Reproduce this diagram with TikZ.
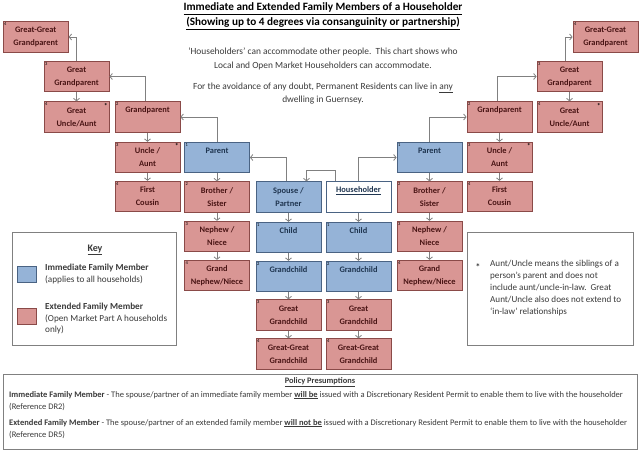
\documentclass[tikz,border=0pt]{standalone}
\usepackage{fontspec}
\setmainfont{Carlito}
\definecolor{ImmBlue}{HTML}{95B3D7}
\definecolor{ImmEdge}{HTML}{4A6383}
\definecolor{ExtRed}{HTML}{D99694}
\definecolor{ExtEdge}{HTML}{8A4A48}
\definecolor{ImmText}{HTML}{1F3550}
\definecolor{ExtText}{HTML}{4A1515}
\definecolor{LinkGrey}{HTML}{808080}
\definecolor{BodyText}{HTML}{3A3A3A}
\usetikzlibrary{arrows.meta,positioning}

\begin{document}
\begin{tikzpicture}[x=1pt,y=-1pt,>={Straight Barb[length=2.5pt,width=6pt]}]
\tikzstyle{fam}=[draw,line width=0.8pt,align=center,minimum width=65pt,minimum height=30.5pt,inner sep=1pt,font=\fontsize{8.4}{13}\selectfont\bfseries]
\tikzstyle{imm}=[fam,fill=ImmBlue,draw=ImmEdge,text=ImmText]
\tikzstyle{ext}=[fam,fill=ExtRed,draw=ExtEdge,text=ExtText]
\tikzstyle{hhbox}=[fam,fill=white,draw=ImmEdge,text=ImmText]
\tikzstyle{oneline}=[text depth=14pt]
\tikzstyle{deg}=[anchor=north west,inner sep=1.2pt,font=\fontsize{4.5}{5}\selectfont,text=black]
\tikzstyle{star}=[anchor=north east,inner sep=1.5pt,font=\fontsize{7}{7}\selectfont\bfseries,text=black]
\tikzstyle{link}=[draw=LinkGrey,line width=0.8pt,->]
\tikzstyle{panel}=[draw=LinkGrey,line width=0.6pt,fill=white]
\tikzstyle{swatch}=[draw,line width=0.6pt,minimum width=19pt,minimum height=16pt]
\tikzstyle{body}=[font=\fontsize{9.4}{14}\selectfont,text=BodyText,align=center]
\tikzstyle{keytext}=[font=\fontsize{9.2}{11.5}\selectfont,text=BodyText,align=left,inner sep=0pt]
\tikzstyle{policy}=[font=\fontsize{8.5}{12}\selectfont,text=BodyText,align=left,inner sep=0pt]
\useasboundingbox (0,0) rectangle (640,452);
% heading and notes
\node[font=\fontsize{11.2}{15}\selectfont\bfseries,align=center] (title) at (323,16.5) {\underline{Immediate and Extended Family Members of a Householder}\\\underline{(Showing up to 4 degrees via consanguinity or partnership)}};
\node[body] (intro) at (323,59) {`Householders' can accommodate other people.\ \ This chart shows who\\Local and Open Market Householders can accommodate.};
\node[body,font=\fontsize{9.4}{13}\selectfont] (doubt) at (323,93.5) {For the avoidance of any doubt, Permanent Residents can live in \underline{any}\\dwelling in Guernsey.};
% left ancestors
\node[ext,label={[deg]north west:4}] (lgggp) at (35.7,37) {Great-Great\\Grandparent};
\node[ext,label={[deg]north west:3}] (lggp) at (76.5,76.5) {Great\\Grandparent};
\node[ext,label={[deg]north west:4},label={[star]north east:*}] (lgua) at (76.5,117) {Great\\Uncle/Aunt};
\node[ext,oneline,label={[deg]north west:2}] (lgp) at (147.5,117) {Grandparent};
\node[ext,label={[deg]north west:3},label={[star]north east:*}] (lua) at (147.5,157.5) {Uncle /\\Aunt};
\node[ext,label={[deg]north west:4}] (lfc) at (147.5,196.5) {First\\Cousin};
\node[imm,oneline,label={[deg]north west:1}] (lpar) at (217,157.5) {Parent};
\node[ext,label={[deg]north west:2}] (lsib) at (217,197) {Brother /\\Sister};
\node[ext,label={[deg]north west:3}] (lnep) at (217,236.5) {Nephew /\\Niece};
\node[ext,label={[deg]north west:4}] (lgnep) at (217,275.5) {Grand\\Nephew/Niece};
% spouse and householder
\node[imm] (sp) at (288.5,197) {Spouse /\\Partner};
\node[imm,oneline,label={[deg]north west:1}] (spc) at (288.5,237.5) {Child};
\node[imm,oneline,label={[deg]north west:2}] (spgc) at (288.5,276.5) {Grandchild};
\node[ext,label={[deg]north west:3}] (spggc) at (288.5,315) {Great\\Grandchild};
\node[ext,label={[deg]north west:4}] (spgggc) at (288.5,354) {Great-Great\\Grandchild};
\node[hhbox,oneline] (hh) at (358.5,197) {\underline{Householder}};
\node[imm,oneline,label={[deg]north west:1}] (hhc) at (358.5,237.5) {Child};
\node[imm,oneline,label={[deg]north west:2}] (hhgc) at (358.5,276.5) {Grandchild};
\node[ext,label={[deg]north west:3}] (hhggc) at (358.5,315) {Great\\Grandchild};
\node[ext,label={[deg]north west:4}] (hhgggc) at (358.5,354) {Great-Great\\Grandchild};
% right ancestors
\node[imm,oneline,label={[deg]north west:1}] (rpar) at (429.5,157.5) {Parent};
\node[ext,label={[deg]north west:2}] (rsib) at (429.5,197) {Brother /\\Sister};
\node[ext,label={[deg]north west:3}] (rnep) at (429.5,236.5) {Nephew /\\Niece};
\node[ext,label={[deg]north west:4}] (rgnep) at (429.5,275.5) {Grand\\Nephew/Niece};
\node[ext,oneline,label={[deg]north west:2}] (rgp) at (499.5,117) {Grandparent};
\node[ext,label={[deg]north west:3},label={[star]north east:*}] (rua) at (499.5,157.5) {Uncle /\\Aunt};
\node[ext,label={[deg]north west:4}] (rfc) at (499.5,196.5) {First\\Cousin};
\node[ext,label={[deg]north west:3}] (rggp) at (569.5,76.5) {Great\\Grandparent};
\node[ext,label={[deg]north west:4},label={[star]north east:*}] (rgua) at (569.5,117) {Great\\Uncle/Aunt};
\node[ext,label={[deg]north west:4}] (rgggp) at (605.5,37) {Great-Great\\Grandparent};
% upward links
\draw[link] (hh.north) |- (rpar.west);
\draw[link] ([xshift=-23pt]hh.north) -- ++(0,-10.5) -| ([xshift=18pt]sp.north);
\draw[link] ([xshift=-2.5pt]sp.north) |- (lpar.east);
\draw[link] (lpar.north) |- (lgp.east);
\draw[link] ([xshift=-2pt]lgp.north) |- (lggp.east);
\draw[link] (lggp.north) |- (lgggp.east);
\draw[link] (rpar.north) |- (rgp.west);
\draw[link] ([xshift=-2pt]rgp.north) |- (rggp.west);
\draw[link] ([xshift=-4pt]rggp.north) |- (rgggp.west);
% downward links
\draw[link] (lggp)--(lgua);
\draw[link] (lgp)--(lua);
\draw[link] (lua)--(lfc);
\draw[link] (lpar)--(lsib);
\draw[link] (lsib)--(lnep);
\draw[link] (lnep)--(lgnep);
\draw[link] (sp)--(spc);
\draw[link] (spc)--(spgc);
\draw[link] (spgc)--(spggc);
\draw[link] (spggc)--(spgggc);
\draw[link] (hh)--(hhc);
\draw[link] (hhc)--(hhgc);
\draw[link] (hhgc)--(hhggc);
\draw[link] (hhggc)--(hhgggc);
\draw[link] (rpar)--(rsib);
\draw[link] (rsib)--(rnep);
\draw[link] (rnep)--(rgnep);
\draw[link] (rgp)--(rua);
\draw[link] (rua)--(rfc);
\draw[link] (rggp)--(rgua);
% key
\node[panel,minimum width=164pt,minimum height=113pt] (key) at (94.7,288.5) {};
\node[font=\fontsize{10}{11}\selectfont\bfseries,text=BodyText] (keyt) at (95,250) {\underline{Key}};
\node[swatch,fill=ImmBlue,draw=ImmEdge] (swimm) at (27,274.5) {};
\node[swatch,fill=ExtRed,draw=ExtEdge] (swext) at (27,316) {};
\node[keytext,anchor=north west] (immtxt) at (45,264) {\textbf{Immediate Family Member}\\(applies to all households)};
\node[keytext,anchor=north west] (exttxt) at (45,303) {\textbf{Extended Family Member}\\(Open Market Part A households\\only)};
% aunt/uncle note
\node[panel,minimum width=166pt,minimum height=113pt] (note) at (550,288.5) {};
\node[keytext,font=\fontsize{9.5}{10}\selectfont\bfseries] (ast) at (478,267) {*};
\node[keytext,anchor=north west,font=\fontsize{9.1}{12}\selectfont] (notetxt) at (490,260) {Aunt/Uncle means the siblings of a\\person's parent and does not\\include aunt/uncle-in-law.\ \ Great\\Aunt/Uncle also does not extend to\\`in-law' relationships};
% policy presumptions
\node[panel,minimum width=634pt,minimum height=75pt] (pol) at (320,411.5) {};
\node[policy,font=\fontsize{8.4}{9}\selectfont\bfseries] (polt) at (320,382) {\underline{Policy Presumptions}};
\node[policy,anchor=north west] (polimm) at (9,391) {\textbf{Immediate Family Member} - The spouse/partner of an immediate family member \textbf{\underline{will be}} issued with a Discretionary Resident Permit to enable them to live with the householder\\(Reference DR2)};
\node[policy,anchor=north west] (polext) at (9,419) {\textbf{Extended Family Member} - The spouse/partner of an extended family member \textbf{\underline{will not be}} issued with a Discretionary Resident Permit to enable them to live with the householder\\(Reference DR5)};
\end{tikzpicture}
\end{document}
